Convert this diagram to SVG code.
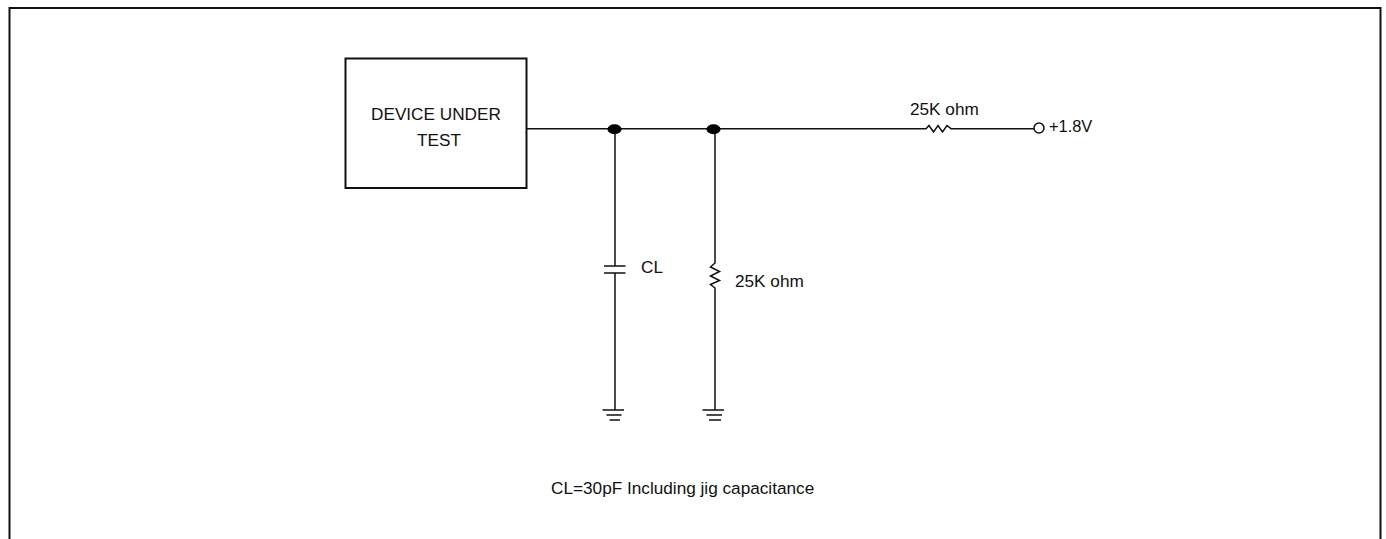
<svg xmlns="http://www.w3.org/2000/svg" width="1386" height="539" viewBox="0 0 1386 539">
<style>
text{font-family:"Liberation Sans",Arial,sans-serif;font-size:17.200px;fill:#111}
.w{fill:none;stroke:#111;stroke-width:1.500}
.b{fill:none;stroke:#111;stroke-width:2}
.d{fill:#000;stroke:none}
</style>
<rect width="1386" height="539" fill="#fff"/>
<path id="frame" class="b" d="M9.500 539V8H1380.500V539"/>
<g id="connectors">
<path class="w" d="M527 128.700H926L929 125.500L933.500 132L938 125.500L942.500 132L947 125.500L951 128.700H1034"/>
<path class="w" d="M615 129V266M615 273V410"/>
<path class="w" d="M715 129V263L710.500 267L719.500 271.500L710.500 276L719.500 280.500L710.500 284.500L715 288V410"/>
</g>
<g id="dut"><rect class="b" x="345.500" y="58.500" width="181" height="129.500"/><text x="371" y="120">DEVICE UNDER</text><text x="417" y="146">TEST</text></g>
<g id="node1"><ellipse class="d" cx="614.500" cy="129.200" rx="7" ry="5"/></g>
<g id="node2"><ellipse class="d" cx="713.500" cy="129.200" rx="7" ry="5"/></g>
<g id="r-top"><text x="910" y="115">25K ohm</text></g>
<g id="vcc"><circle class="w" cx="1039" cy="128" r="5"/><text x="1049" y="132" style="font-size:16.400px">+1.8V</text></g>
<g id="cap"><path class="w" d="M604 266H625.500M604 273H625.500"/><text x="641" y="273">CL</text></g>
<g id="r-shunt"><text x="735" y="287">25K ohm</text></g>
<g id="gnd1"><path class="w" d="M602.500 410H624M606.500 415H621.500M609.500 420H620"/></g>
<g id="gnd2"><path class="w" d="M702.500 410H724M706.500 415H722M709 420H721"/></g>
<g id="note"><text x="551" y="494">CL=30pF Including jig capacitance</text></g>
</svg>
